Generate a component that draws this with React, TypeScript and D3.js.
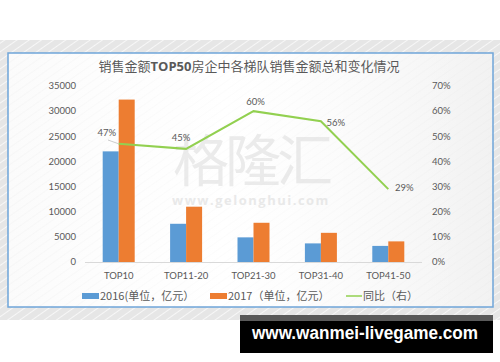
import React from "react";
import * as d3 from "d3";

const categories = ["TOP10", "TOP11-20", "TOP21-30", "TOP31-40", "TOP41-50"];
const sales2016 = [22000, 7600, 4900, 3700, 3200];
const sales2017 = [32300, 11000, 7800, 5800, 4100];
const yoy = [47, 45, 60, 56, 29];
const leftTicks = [0, 5000, 10000, 15000, 20000, 25000, 30000, 35000];
const rightTicks = [0, 10, 20, 30, 40, 50, 60, 70];
const legendLabels = ["2016(单位，亿元）", "2017（单位，亿元）", "同比（右）"];
const title = ["销售金额", "TOP50", "房企中各梯队销售金额总和变化情况"];

const BLUE = "#5B9BD5";
const ORANGE = "#ED7D31";
const GREEN = "#92D050";
const TEXT = "#595959";
const NUM_FONT = "Lato, 'Open Sans', sans-serif";
const CJK_FONT = "'Noto Sans CJK SC', 'Noto Sans', sans-serif";

export default function App() {
  const W = 500, H = 362;
  const x = d3.scaleBand<string>().domain(categories).range([85, 422]);
  const yL = d3.scaleLinear().domain([0, 35000]).range([262, 86]);
  const yR = d3.scaleLinear().domain([0, 70]).range([262, 86]);
  const barW = 16;
  const cx = (c: string) => (x(c) as number) + x.bandwidth() / 2;
  const line = d3
    .line<number>()
    .x((_, i) => cx(categories[i]))
    .y((d) => yR(d));

  const labelPos = [
    { dx: -12, dy: -11 },
    { dx: -5, dy: -11 },
    { dx: 2, dy: -9 },
    { dx: 15, dy: 1 },
    { dx: 16, dy: -1 },
  ];

  return (
    <svg
      width={W}
      height={H}
      style={{ position: "absolute", left: 0, top: 0, display: "block" }}
    >
      <defs>
        <pattern id="stripes" width="7" height="7" patternUnits="userSpaceOnUse" patternTransform="rotate(-35)">
          <rect width="7" height="7" fill="#e6e6e6" />
          <line x1="0" y1="0" x2="7" y2="0" stroke="#f7f7f7" strokeWidth="2" />
        </pattern>
        <pattern id="stripes2" width="7" height="7" patternUnits="userSpaceOnUse" patternTransform="rotate(-35)">
          <line x1="0" y1="0" x2="7" y2="0" stroke="#e4e4e4" strokeWidth="1" />
        </pattern>
        <linearGradient id="boxGrad" x1="0" y1="0" x2="1" y2="0">
          <stop offset="0" stopColor="#fafafa" />
          <stop offset="0.45" stopColor="#ffffff" />
          <stop offset="1" stopColor="#f0f0f0" />
        </linearGradient>
        <linearGradient id="boxFade" x1="0" y1="0" x2="1" y2="0">
          <stop offset="0" stopColor="#fff" stopOpacity="0.3" />
          <stop offset="0.5" stopColor="#fff" stopOpacity="1" />
          <stop offset="1" stopColor="#fff" stopOpacity="0.2" />
        </linearGradient>
      </defs>
      <rect x={0} y={0} width={W} height={H} fill="#ffffff" />
      <rect x={0} y={40} width={W} height={280} fill="url(#stripes)" />
      {/* chart box */}
      <rect x={8} y={53} width={485} height={254} fill="url(#boxGrad)" />
      <rect x={8} y={53} width={485} height={254} fill="url(#stripes2)" opacity={0.5} />
      <rect x={8} y={53} width={485} height={254} fill="url(#boxFade)" opacity={0.6} />
      <rect x={8} y={53} width={485} height={254} fill="none" stroke="#6FA5D9" strokeWidth={1.5} />

      {/* title */}
      <text x={249} y={71} textAnchor="middle" fill={TEXT} fontSize={13} fontFamily={CJK_FONT}>
        <tspan>{title[0]}</tspan>
        <tspan fontWeight="bold" fontFamily="'Open Sans', sans-serif">{title[1]}</tspan>
        <tspan>{title[2]}</tspan>
      </text>

      {/* watermark */}
      <text x={251} y={181} textAnchor="middle" fill="#dcdcdc" opacity={0.55} fontSize={56} fontFamily={CJK_FONT} letterSpacing={-4}>
        格隆汇
      </text>
      <text x={251} y={205} textAnchor="middle" fill="#dcdcdc" opacity={0.6} fontSize={13} fontWeight="bold" fontFamily="'Open Sans', sans-serif" letterSpacing={1.5}>
        www.gelonghui.com
      </text>

      {/* left axis labels */}
      {leftTicks.map((t) => (
        <text key={"l" + t} x={76} y={yL(t)} dy="0.35em" textAnchor="end" fill={TEXT} fontSize={9.5} fontFamily={NUM_FONT}>
          {t}
        </text>
      ))}
      {/* right axis labels */}
      {rightTicks.map((t) => (
        <text key={"r" + t} x={432} y={yR(t)} dy="0.35em" textAnchor="start" fill={TEXT} fontSize={9.5} fontFamily={NUM_FONT}>
          {t + "%"}
        </text>
      ))}

      {/* bars */}
      {categories.map((c, i) => (
        <g key={c}>
          <rect x={cx(c) - barW} y={yL(sales2016[i])} width={barW} height={yL(0) - yL(sales2016[i])} fill={BLUE} />
          <rect x={cx(c)} y={yL(sales2017[i])} width={barW} height={yL(0) - yL(sales2017[i])} fill={ORANGE} />
        </g>
      ))}
      {/* baseline */}
      <line x1={85} x2={422} y1={262.5} y2={262.5} stroke="#d9d9d9" strokeWidth={1} />

      {/* category labels */}
      {categories.map((c) => (
        <text key={"c" + c} x={cx(c)} y={276} dy="0.35em" textAnchor="middle" fill={TEXT} fontSize={9.5} fontFamily={NUM_FONT}>
          {c}
        </text>
      ))}

      {/* line */}
      <path d={line(yoy) || ""} fill="none" stroke={GREEN} strokeWidth={2} />
      <line x1={108} y1={140} x2={cx(categories[0])} y2={yR(yoy[0])} stroke="#bfbfbf" strokeWidth={0.8} />
      {yoy.map((v, i) => (
        <text
          key={"p" + i}
          x={cx(categories[i]) + labelPos[i].dx}
          y={yR(v) + labelPos[i].dy}
          dy="0.35em"
          textAnchor="middle"
          fill={TEXT}
          fontSize={9.5}
          fontFamily={NUM_FONT}
        >
          {v + "%"}
        </text>
      ))}

      {/* legend */}
      <rect x={82} y={293} width={17} height={6} fill={BLUE} />
      <text x={100} y={296} dy="0.35em" fill={TEXT} fontSize={11} fontFamily={CJK_FONT}>
        {legendLabels[0]}
      </text>
      <rect x={210} y={293} width={17} height={6} fill={ORANGE} />
      <text x={228} y={296} dy="0.35em" fill={TEXT} fontSize={11} fontFamily={CJK_FONT}>
        {legendLabels[1]}
      </text>
      <line x1={346} x2={362} y1={296} y2={296} stroke={GREEN} strokeWidth={1.5} />
      <text x={363} y={296} dy="0.35em" fill={TEXT} fontSize={11} fontFamily={CJK_FONT}>
        {legendLabels[2]}
      </text>

      {/* bottom banner */}
      <rect x={240} y={315} width={253} height={6} fill="#5a5a5a" />
      <rect x={240} y={321} width={253} height={32} fill="#000" />
      <text x={252} y={339} fill="#fff" fontSize={18} fontWeight="bold" fontFamily="'Liberation Sans', Arial, sans-serif" textLength={226} lengthAdjust="spacingAndGlyphs">
        www.wanmei-livegame.com
      </text>
    </svg>
  );
}
